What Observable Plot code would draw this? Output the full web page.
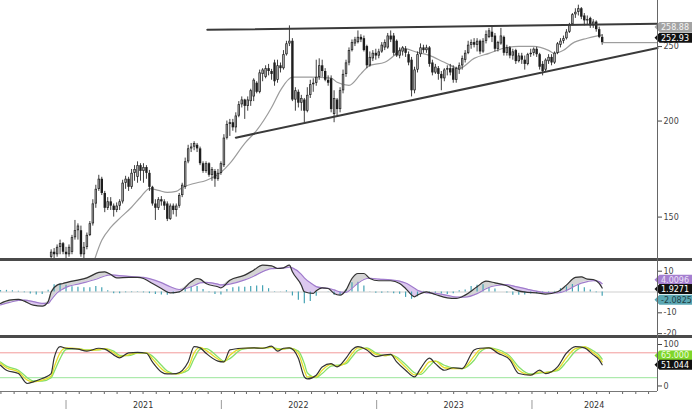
<!DOCTYPE html>
<html><head><meta charset="utf-8">
<script src="https://cdn.jsdelivr.net/npm/d3@7"></script>
<script src="https://cdn.jsdelivr.net/npm/@observablehq/plot@0.6"></script>
<style>
html,body{margin:0;padding:0;background:#fff;}
#chart{position:relative;width:692px;height:409px;overflow:hidden;background:#fff;}
.panel{position:absolute;left:0;}
.sep{position:absolute;left:0;width:692px;height:3px;background:#4a4a4a;}
.vline{position:absolute;left:656.5px;top:0;width:1px;height:391px;background:#666;}
.hline{position:absolute;left:0;top:390.5px;width:657px;height:1px;background:#777;}
</style></head><body><div id="chart"></div>
<script>
// ---------- data ----------
const chartStart = "2020-07-31";   // week 0
const chartEnd = "2024-10-22";
const candleFirstWeek = 17;
const opens = [
133,135,134,137,138.5,135,134,135,141,144,
144,134,137,142,147,156,163,168,161,154,
157,155,153,155,157,166,168,164,171,169,
175,172,174,171,164,156,154,158,157,156,
149,155,153,155,160,164,177,184,185,186,
184,176,172,176,170,172,168,171,175,190,
198,199,196,203,210,213,209,212,215,224,
218,230,228,234,232,238,226,236,234,244,
252,254,213,218,211,213,206,216,223,224,
228,236,232,226,227,204,213,207,219,230,
238,247,252,253,257,256,250,236,241,245,
243,246,249,249,258,258,254,243,246,248,
244,240,219,233,244,249,247,249,238,231,
234,230,227,233,234,234,226,233,236,240,
245,251,253,251,254,246,254,257,261,258,
248,252,257,245,249,243,247,239,243,240,
237,244,245,248,244,237,233,239,242,238,
245,251,254,256,261,267,275,277,280,274,
270,272,266,269,263,257];
const highs = [
136,136.5,138,140,139,137,138,142,148.5,147,
146,139,143,148,158,165,170,169,162,159,
159,156,156.5,158,167.5,169.5,169,173,175,177,
176,176,175,172.5,164.5,158,159,159.5,158,157,
156,156,156,161,166,179,186,187,188,187,
185,177,177,176.5,174,173,173,177,192,200,
201,201,205,212,215,213.5,215,220,227,225,
233,234,236,237,233.5,240,240,238,247,254,
266,256,221,219.5,216,214,221,226,227,240,
241,240,234,229,229,219,214,221,233,240,
249,255,257,262,259,258,251,246,247,248,
248,253,255,260,262,260,255,249,250,250,
246,242,235,246,252,251,251,250,240,237,
235.5,232,234,236,237,236,235,238,243,247,
254,255,256,256,255,256,262,264,265,260,
254,264,258,251,250,248,248,245,245,243,
245,248,249,249.5,245,239,241,244,244,246,
253,256,258,263,268,276,280,283,281,276,
274,273,271,270,265,259];
const lows = [
132,132,133,134,134,132,133,134,140,140,
133,132,136,141.5,146,154,162,160,152,153,
153,150,152,153,156,163,162,163,167,166,
167,166,168,162,155,148.5,153,155,153,148,
148.5,151,150,154,159,163,176,182,183,182,
175,171,171,169,167,164,167,170,174,189,
191,194,193,202,208,201,206,209,212,217,
217,225,227,229,226,222,224,231,233,243,
250,212,206,208,206,199,205,214,218,222,
226,228,225,222,205,199,203,205,217,228,
236,246,250,252,253,246,234,235,239,240,
241,245,247,248,253,243,242,241,243,242,
236,215,217,231,242,245,245,235,229,230,
226,219,225,229,229,224,224,230,233,238,
244,248,249,246,244,245,252,256,253,246,
246,251,243,243,241,240,237,238,237,233,
236,242,243,242,233,229,232,237,236,237,
244,249,252,255,260,266,272,274,271,266,
267,264,264,261,256,251];
const closes = [
135,134,137,138.5,135,134,137,141,144,146,
134,137,142,147,156,163,168,161,154,157,
155,153,155,157,166,168,164,171,173,175,
172,174,171,164,156,154,158,157,155,149,
155,153,155,160,165,177,184,185,187,184,
176,172,176,170,173,168,171,176,190,198,
199,196,203,210,213,209,213,219,226,218,
231,233,234,232,230,225,236,234,244,252,
254,213,219,211,214,206,216,223,224,228,
236,232,226,224,207,214,207,219,230,238,
247,253,255,257,255,247,236,242,245,243,
246,251,253,258,255,245,243,247,249,245,
238,219,233,244,249,247,249,237,231,235,
230,227,233,234,231,226,234,236,241,245,
251,253,251,254,246,254,259,262,257,248,
253,258,245,249,243,246,239,243,240,237,
244,245,248,244,235,232,240,242,238,245,
252,254,256,261,267,275,277,280,273,270,
271,266,269,263,257,252.93];

const maWeeks  = [31,34,37,40,44,47,50,53,56,59,61,65,69,74,77,82,86,91,94,98,104,111,113,117,121,124,129,133,135,140,144,149,154,159,164,170,174,179,184,186,189,192,197,200,202];
const maValues = [130,139.9,145.4,149.4,154.5,159.2,163.4,162.5,161.5,162,163.9,165.9,167.4,171.5,176.2,187.1,194.5,208.3,219.3,228.1,228.1,227.4,224.6,222.6,230.4,236.3,238.5,245,248.6,245.7,243.5,238.5,234.2,241.3,245,249.3,250.1,250.1,247.2,245,247.2,252.4,256.3,258,258.88];

const resistanceDates = ["2021-11-29","2024-10-22"];
const resistanceValues = [262.9,267.6];
const supportDates = ["2022-02-04","2024-10-22"];
const supportValues = [190.3,248.9];

const macdWeeks = [0,3,6,8,11,14,16,17,19,21,23,26,29,33,35,37,39,43,46,48,50,54,57,60,64,66,67,69,73,74,77,82,85,88,91,93,95,97,98,101,102,105,106,108,110,112,114,116,118,120,122,124,127,131,134,136,139,140,143,146,150,153,156,160,163,166,170,173,177,180,183,187,190,193,195,197,199,201,202];
const macdValues = [-5.5,-3.9,-3.5,-4.4,-6.3,-6.8,-4.6,0,3.3,4.1,4.9,5.7,6.8,9.4,9.7,8.4,6.8,7.0,7.0,6.5,4.9,1.7,-0.4,0.1,4.9,6.5,6.2,4.1,2.5,2.0,5.7,8.1,10.5,12.9,12.6,11.3,11.6,12.9,9.7,3.3,0.1,-0.7,0.6,2.0,1.7,-0.7,-1.5,0.9,6.5,8.9,8.9,6.5,5.4,5.4,4.1,1.7,-2.3,-1.5,0.1,-1.2,-2.8,-3.1,-1.5,2.5,5.2,4.4,3.0,0.9,-0.2,-0.4,-1.0,0.1,3.3,7.0,7.3,6.2,6.0,4.1,1.9271];
const signalValues = [-6.2,-5.0,-4.0,-3.9,-4.6,-5.5,-5.5,-3.8,-0.4,1.5,2.8,3.8,4.9,6.6,7.7,8.2,8.0,7.5,7.2,7.0,6.4,4.5,2.5,1.2,2.5,3.8,4.4,4.6,3.8,3.4,3.8,5.8,7.6,9.8,11.2,11.4,11.5,12.0,11.6,8.5,6.8,3.5,2.6,2.0,1.8,1.0,0.0,-0.2,1.8,4.2,6.0,6.6,6.2,5.8,5.2,4.3,1.8,0.8,-0.4,-0.6,-1.6,-2.4,-2.5,-0.8,1.6,3.0,3.5,2.6,1.3,0.4,-0.3,-0.4,0.8,3.0,4.3,5.0,5.5,5.0,4.0096];
const histStep = 2; // one bar every two weeks, from week 0
const histValues = [0.7,0.8,0.6,0.4,-0.4,-1.0,-1.4,-1.2,0.9,3.5,4.0,3.2,2.5,2.3,2.0,2.0,2.6,2.0,0.6,-0.8,-0.8,-0.4,-0.3,-0.2,-0.4,-0.8,-1.2,-1.4,-1.5,-1.0,-0.4,1.5,2.4,2.6,1.2,-0.4,-1.2,-1.4,1.2,2.0,2.4,2.3,2.6,2.9,3.0,1.6,0.2,0.1,0.6,-1.9,-4.0,-5.6,-4.6,-2.0,0.0,-0.1,-1.6,-1.5,1.1,4.5,4.7,2.9,-0.1,-0.6,-0.6,-0.4,-0.8,-1.1,-2.6,-3.5,-2.3,0.3,-0.3,-0.6,-1.0,-1.2,-0.8,0.6,1.0,2.6,3.3,3.5,2.0,1.4,0.0,-0.5,-1.5,-1.6,-1.4,-1.0,-0.8,-0.7,-0.6,0.3,1.6,2.5,3.6,3.4,2.0,1.0,-0.4,-2.0825];

const stochWeeks = [0,2,6,9,11,14,17,18,20,22,26,29,33,35,38,40,43,46,49,51,54,56,59,63,65,67,69,73,75,77,81,85,88,91,93,95,97,100,102,103,106,108,111,113,116,118,120,123,126,129,131,133,136,139,141,144,146,149,152,155,159,161,164,167,171,174,178,181,183,187,190,193,196,199,201,202];
const stochK = [50,38,30,6,10,18,30,67,95,91,89,84,91,89,75,68,80,81,79,58,34,29,30,58,95,92,79,60,58,87,91,92,91,96,84,91,92,67,22,17,26,46,54,46,67,87,95,87,71,75,76,58,38,22,42,67,54,38,44,42,87,91,92,79,63,30,26,38,30,46,79,95,92,75,63,51.0443];
const stochD = [55,44,34,14,10,14,24,45,80,92,90,86,88,90,80,71,75,80,80,66,42,32,29,45,80,93,86,65,58,74,90,92,91,94,88,89,92,78,38,22,22,38,52,48,58,78,92,90,76,73,76,66,45,27,32,58,60,44,42,42,72,88,92,84,68,38,27,34,32,40,68,90,94,80,68,58];
const stochSlow = [58,48,38,20,12,12,20,34,66,88,90,87,87,90,84,74,73,79,80,72,50,36,29,38,66,88,90,70,60,66,88,92,91,93,90,89,91,84,54,32,20,30,48,50,54,70,86,92,80,73,75,70,52,32,28,48,60,50,43,42,62,82,92,88,72,46,29,31,33,37,58,84,94,85,74,65];

const priceTicks = [150,200,250];
const macdTicks = [10,-10,-20];
const stochTicks = [100,0];
const stochLevels = [80,20];
const yearLabels = ["2021","2022","2023","2024"];
const yearLabelDates = ["2021-07-01","2022-07-01","2023-07-01","2024-05-26"];

// ---------- build ----------
const t0 = new Date(chartStart), t1 = new Date(chartEnd);
const weekDate = w => d3.utcDay.offset(t0, 7 * w);
const candles = opens.map((o, i) => ({date: weekDate(candleFirstWeek + i), o, h: highs[i], l: lows[i], c: closes[i]}));
const ups = candles.filter(d => d.c >= d.o);
const ma = maWeeks.map((w, i) => ({date: weekDate(w), v: maValues[i]}));
const res = resistanceDates.map((d, i) => ({date: new Date(d), v: resistanceValues[i]}));
const sup = supportDates.map((d, i) => ({date: new Date(d), v: supportValues[i]}));
const macd = macdWeeks.map((w, i) => ({date: weekDate(w), m: macdValues[i], s: signalValues[i]}));
const hist = histValues.map((v, i) => ({date: weekDate(i * histStep), v}));
const stoch = stochWeeks.map((w, i) => ({date: weekDate(w), k: stochK[i], d: stochD[i], s: stochSlow[i]}));
const last = candles[candles.length - 1];

const FONT = "DejaVu Sans";
const common = {
  width: 692, marginLeft: 0, marginRight: 35, marginTop: 0, marginBottom: 0,
  x: {type: "utc", domain: [t0, t1], axis: null},
  style: {fontFamily: FONT, fontSize: "8px", color: "#444", background: "transparent", overflow: "visible"}
};
const axisOpts = {anchor: "right", tickSize: 4, tickPadding: 2, fontSize: 8, tickFormat: d => String(d)};

const p1 = Plot.plot({
  ...common, height: 258,
  y: {type: "log", domain: [132.5, 287]},
  marks: [
    Plot.axisY(priceTicks, axisOpts),
    Plot.line(ma, {x: "date", y: "v", stroke: "#9c9c9c", strokeWidth: 1.2, curve: "monotone-x", clip: true}),
    Plot.ruleX(candles, {x: "date", y1: "l", y2: "h", stroke: "#2a2a2a", strokeWidth: 0.9, clip: true}),
    Plot.ruleX(candles, {x: "date", y1: "o", y2: "c", stroke: "#1e1e1e", strokeWidth: 2.4, clip: true}),
    Plot.ruleX(ups, {x: "date", y1: "c", y2: "o", stroke: "#b8b8b8", strokeWidth: 0.9, insetTop: 0.7, insetBottom: 0.7, clip: true}),
    Plot.line(res, {x: "date", y: "v", stroke: "#3a3a3a", strokeWidth: 2}),
    Plot.line(sup, {x: "date", y: "v", stroke: "#3a3a3a", strokeWidth: 2}),
    Plot.ruleY([last.c], {y: d => d, x1: () => last.date, x2: () => t1, stroke: "#8a8a8a", strokeWidth: 1})
  ]
});

const p2 = Plot.plot({
  ...common, height: 74,
  y: {domain: [-20.9, 14.66]},
  marks: [
    Plot.axisY(macdTicks, axisOpts),
    Plot.ruleY([0], {stroke: "#cfcfcf", strokeWidth: 1}),
    Plot.areaY(macd, {x: "date", y1: "s", y2: d => Math.max(d.m, d.s), fill: "#d4d4d4", curve: "monotone-x"}),
    Plot.areaY(macd, {x: "date", y1: "s", y2: d => Math.min(d.m, d.s), fill: "#dcc8ef", curve: "monotone-x"}),
    Plot.ruleX(hist, {x: "date", y1: () => 0, y2: "v", stroke: "#45a3b4", strokeWidth: 1.2}),
    Plot.line(macd, {x: "date", y: "s", stroke: "#a07ccc", strokeWidth: 1.2, curve: "monotone-x"}),
    Plot.line(macd, {x: "date", y: "m", stroke: "#333", strokeWidth: 1.2, curve: "monotone-x"})
  ]
});

const p3 = Plot.plot({
  ...common, height: 53,
  y: {domain: [-13.3, 114.5]},
  marks: [
    Plot.axisY(stochTicks, axisOpts),
    Plot.ruleY(stochLevels, {stroke: d => d > 50 ? "#f29a9a" : "#9be59b", strokeWidth: 1}),
    Plot.line(stoch, {x: "date", y: "s", stroke: "#86e06a", strokeWidth: 1.3, curve: "monotone-x"}),
    Plot.line(stoch, {x: "date", y: "d", stroke: "#e5dd2a", strokeWidth: 1.3, curve: "monotone-x"}),
    Plot.line(stoch, {x: "date", y: "k", stroke: "#333", strokeWidth: 1.2, curve: "monotone-x"})
  ]
});

const months = d3.utcMonth.range(t0, t1);
const years = d3.utcYear.range(t0, t1);
const yl = yearLabels.map((t, i) => ({date: new Date(yearLabelDates[i]), t}));
const p4 = Plot.plot({
  ...common, height: 18,
  marks: [
    Plot.ruleX(months, {x: d => d, insetBottom: 15, stroke: "#666", strokeWidth: 1}),
    Plot.ruleX(years, {x: d => d, insetTop: 9, stroke: "#9a9a9a", strokeWidth: 1}),
    Plot.text(yl, {x: "date", text: "t", frameAnchor: "top", lineAnchor: "middle", dy: 14, fontSize: 8, fill: "#333"})
  ]
});

// value tags on the right edge (shift = small vertical nudge so stacked tags stay readable)
function tag(plot, value, text, bg, fg, shift = 0) {
  const y = plot.scale("y").apply(value) + shift;
  const g = d3.select(plot).append("g").attr("font-family", FONT).attr("font-size", 8).attr("text-anchor", "start");
  g.append("path").attr("d", `M654.5,${y} L659.5,${y - 5} H700 V${y + 5} H659.5 Z`).attr("fill", bg);
  g.append("text").attr("x", 661).attr("y", y).attr("dy", "0.36em").attr("text-anchor", "start").attr("fill", fg).text(text);
}
tag(p1, maValues[maValues.length - 1], "258.88", "#a3a3a3", "#f4f4f4", -7.5);
tag(p1, last.c, "252.93", "#111", "#fff", -4.5);
tag(p2, signalValues[signalValues.length - 1], "4.0096", "#a57fd0", "#ece2f7", -3.5);
tag(p2, histValues[histValues.length - 1], "-2.0825", "#5ba7b3", "#1f3f45", 4);
tag(p2, macdValues[macdValues.length - 1], "1.9271", "#111", "#fff", 1.5);
tag(p3, stochSlow[stochSlow.length - 1], "65.000", "#7fd62a", "#effde0", -3);
tag(p3, stochK[stochK.length - 1], "51.044", "#111", "#fff", 0.5);

const root = document.getElementById("chart");
[[p1, 0], [p2, 261], [p3, 338], [p4, 391]].forEach(([p, top]) => {
  const d = document.createElement("div");
  d.className = "panel"; d.style.top = top + "px";
  d.appendChild(p); root.appendChild(d);
});
[[258], [335]].forEach(([t]) => { const s = document.createElement("div"); s.className = "sep"; s.style.top = t + "px"; root.appendChild(s); });
const v = document.createElement("div"); v.className = "vline"; root.appendChild(v);
const h = document.createElement("div"); h.className = "hline"; root.appendChild(h);
</script></body></html>
